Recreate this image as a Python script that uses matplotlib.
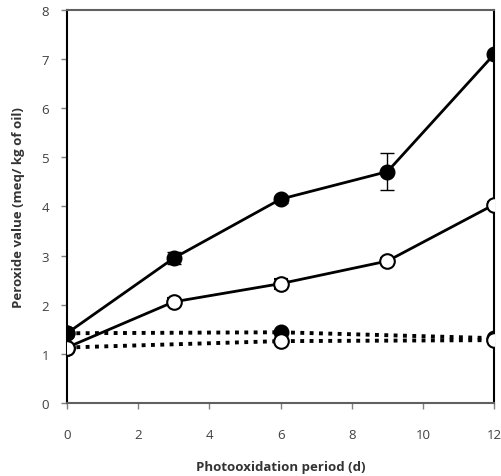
import matplotlib.pyplot as plt
import numpy as np

days = [0, 3, 6, 9, 12]
filled_light = [1.42, 2.95, 4.15, 4.71, 7.1]
filled_light_err = [0.05, 0.12, 0.07, 0.38, 0.05]
open_light = [1.13, 2.06, 2.43, 2.89, 4.04]
open_light_err = [0.05, 0.07, 0.1, 0.06, 0.05]

dark_days = [0, 6, 12]
filled_dark = [1.42, 1.44, 1.32]
open_dark = [1.13, 1.26, 1.28]

plt.rcParams['font.family'] = ['Open Sans', 'DejaVu Sans']

fig = plt.figure(figsize=(5.02, 4.77), dpi=100)
ax = fig.add_axes([0.1335, 0.153, 0.851, 0.824])

ms = 10.5
ax.plot(dark_days, filled_dark, color='black', linestyle=(0, (1, 1.4)), linewidth=2.8,
        marker='o', markersize=ms, markerfacecolor='black', markeredgecolor='black', zorder=3)
ax.plot(dark_days, open_dark, color='black', linestyle=(0, (1, 1.4)), linewidth=2.8,
        marker='o', markersize=ms, markerfacecolor='white', markeredgecolor='black',
        markeredgewidth=1.5, zorder=3)
ax.errorbar(days, open_light, yerr=open_light_err, color='black', linewidth=2,
            marker='o', markersize=ms, markerfacecolor='white', markeredgecolor='black',
            markeredgewidth=1.5, capsize=5, elinewidth=1, zorder=4)
ax.errorbar(days, filled_light, yerr=filled_light_err, color='black', linewidth=2,
            marker='o', markersize=ms, markerfacecolor='black', markeredgecolor='black',
            capsize=5, elinewidth=1, zorder=5)

ax.set_xlim(0, 12)
ax.set_ylim(0, 8)
ax.set_xticks(range(0, 13, 2))
ax.set_yticks(range(0, 9))
ax.tick_params(direction='out', length=4, width=1, color='#808080',
               labelsize=9.5, labelcolor='#404040')
ax.tick_params(axis='x', pad=14)
ax.tick_params(axis='y', pad=9)
for side in ['top', 'bottom']:
    ax.spines[side].set_color('#606060')
    ax.spines[side].set_linewidth(1.5)
for side in ['left', 'right']:
    ax.spines[side].set_color('black')
    ax.spines[side].set_linewidth(1.5)

ax.set_xlabel('Photooxidation period (d)', fontsize=9.5, fontweight='bold', color='#333333', labelpad=14)
ax.set_ylabel('Peroxide value (meq/ kg of oil)', fontsize=9.5, fontweight='bold', color='#333333', labelpad=12)

fig.savefig('out.png', dpi=100)
